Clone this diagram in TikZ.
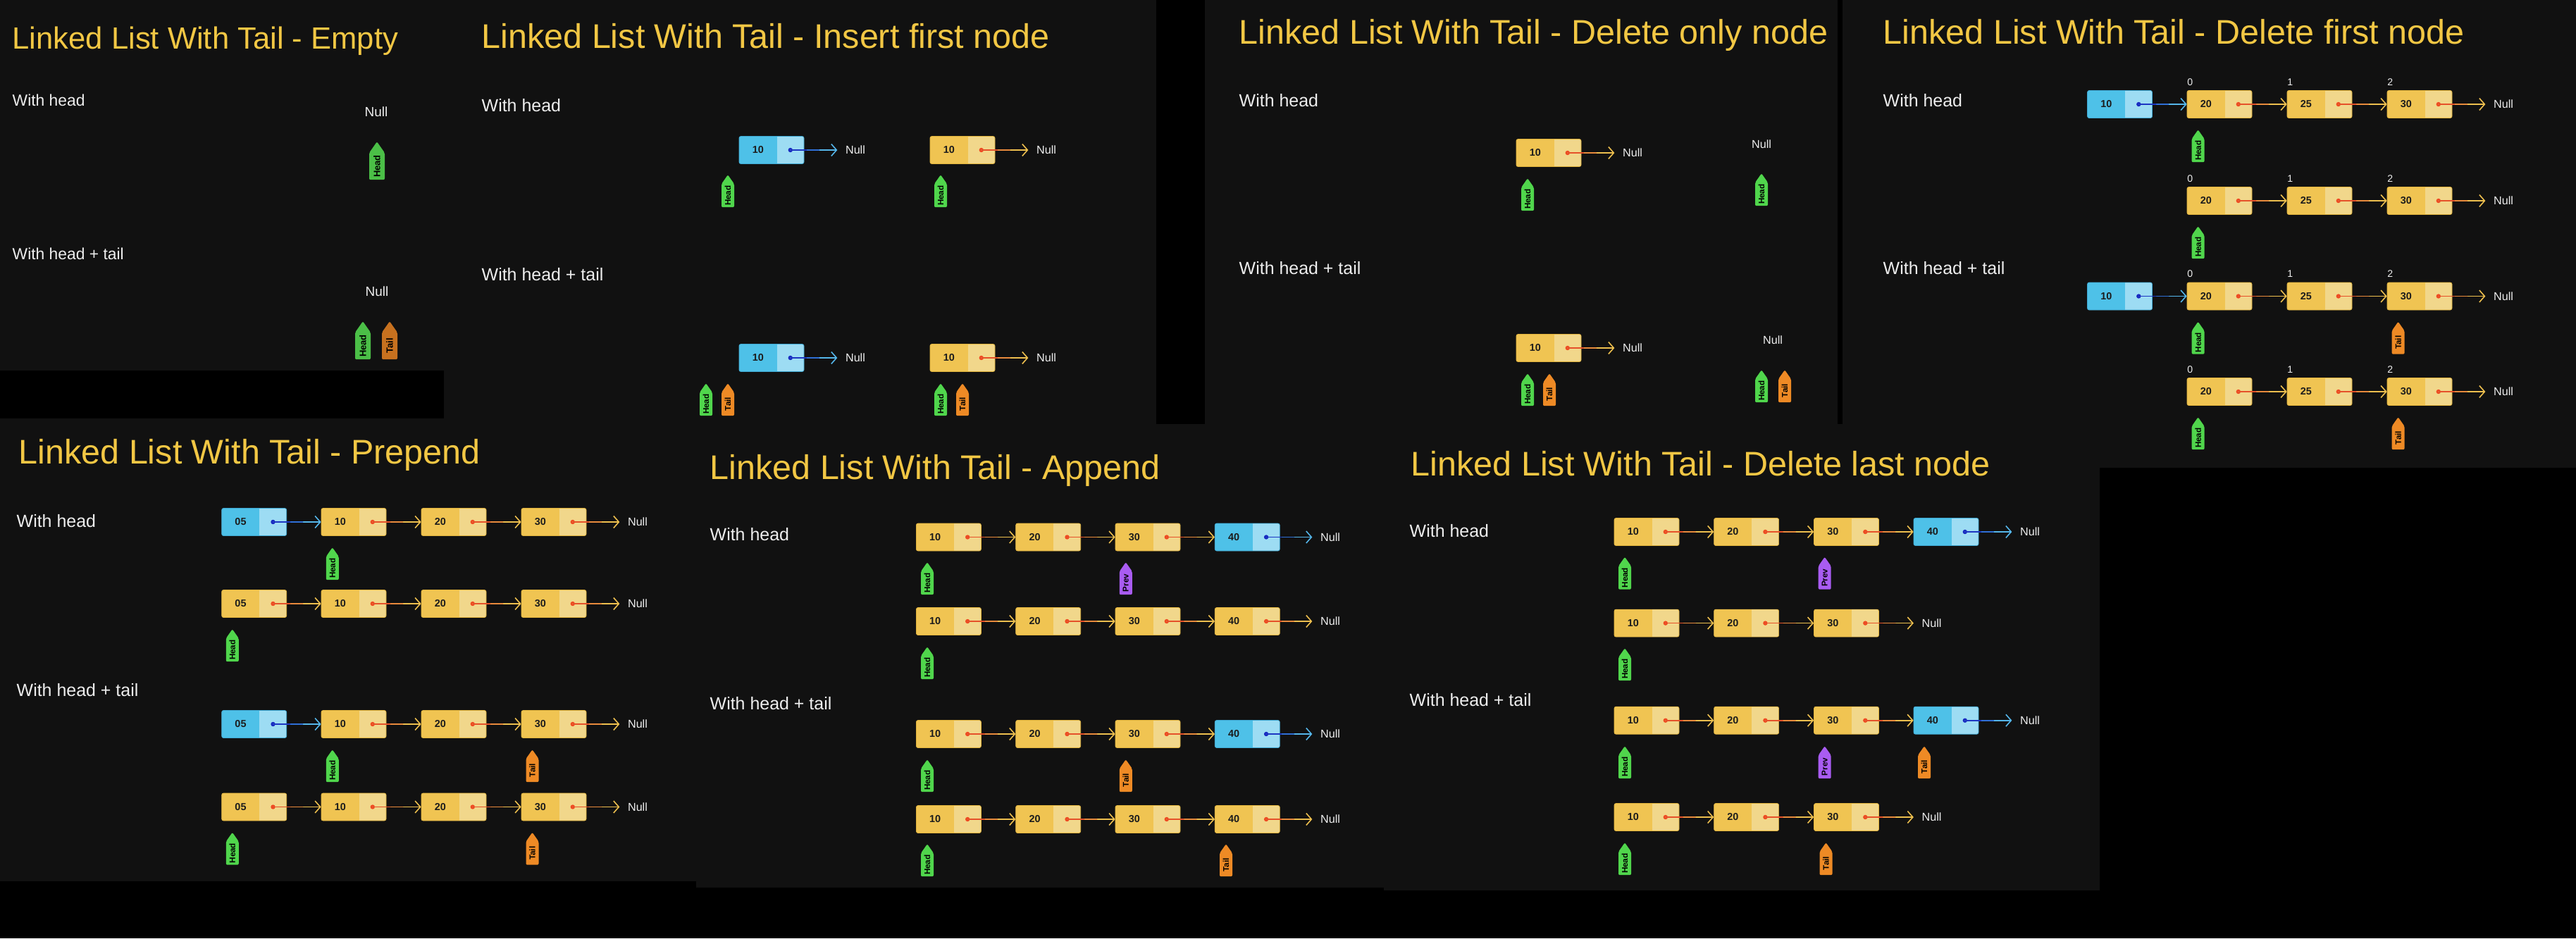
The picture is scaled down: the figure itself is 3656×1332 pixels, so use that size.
\documentclass[tikz,border=0pt]{standalone}
\usepackage{fontspec}
\setmainfont{Liberation Sans}
\usetikzlibrary{arrows.meta,shapes.symbols}

\definecolor{panel}{HTML}{111111}
\definecolor{ttlgold}{HTML}{F2C744}
\definecolor{subwhite}{HTML}{EDEDED}
\definecolor{numblack}{HTML}{1C1C1C}
\definecolor{ydark}{HTML}{F0C452}
\definecolor{ylite}{HTML}{F1D78B}
\definecolor{yedge}{HTML}{E2B43C}
\definecolor{bdark}{HTML}{4EC1E8}
\definecolor{blite}{HTML}{9DDCF3}
\definecolor{bedge}{HTML}{3FA9D4}
\definecolor{dotred}{HTML}{EE4A22}
\definecolor{ptrred}{HTML}{E5512A}
\definecolor{ptrorange}{HTML}{E88A3C}
\definecolor{ptrgold}{HTML}{EDBF4E}
\definecolor{dotblue}{HTML}{1628C0}
\definecolor{ptrdblue}{HTML}{1D36C2}
\definecolor{ptrmblue}{HTML}{2F6FD6}
\definecolor{ptrlblue}{HTML}{55B6EA}
\definecolor{headgreen}{HTML}{50D64C}
\definecolor{tailorange}{HTML}{EE8A25}
\definecolor{prevpurple}{HTML}{A95CF2}
\definecolor{headdim}{HTML}{4BBF47}
\definecolor{taildim}{HTML}{C7711F}

\begin{document}
\begin{tikzpicture}[x=.1mm, y=-.1mm,
    ttl/.style={anchor=base west, inner sep=0, text=ttlgold, font=\fontsize{13.8}{16}\selectfont},
    sub/.style={anchor=base west, inner sep=0, text=subwhite, font=\fontsize{7.1}{8}\selectfont},
    nul/.style={inner xsep=1.1mm, inner ysep=0, text=subwhite, font=\fontsize{4.6}{5}\selectfont},
    idx/.style={anchor=south west, inner sep=0, text=subwhite, font=\fontsize{4}{5}\selectfont},
    num/.style={inner sep=0, text=numblack, font=\bfseries\fontsize{4.1}{5}\selectfont, xshift=-1.92mm},
    cell/.style={rectangle, rounded corners=.25mm, minimum width=9.2mm, minimum height=3.9mm, inner sep=0, line width=.2pt},
    ynode/.style={cell, fill=ylite, draw=yedge, path picture={
        \fill[ydark, sharp corners] (path picture bounding box.south west) rectangle ([xshift=5.36mm]path picture bounding box.north west);
        \fill[dotred] ([xshift=-1.92mm]path picture bounding box.east) circle (.32mm);},
      label={[num]center:#1}},
    bnode/.style={cell, fill=blite, draw=bedge, path picture={
        \fill[bdark, sharp corners] (path picture bounding box.south west) rectangle ([xshift=5.36mm]path picture bounding box.north west);
        \fill[dotblue] ([xshift=-1.92mm]path picture bounding box.east) circle (.32mm);},
      label={[num]center:#1}},
    yptr/.style={draw=ptrgold, line width=.45pt, line cap=round, -{Straight Barb[length=.75mm, width=1.7mm]},
      postaction={draw=ptrorange, -, shorten >=2.6mm}, postaction={draw=ptrred, -, shorten >=4.4mm}},
    bptr/.style={draw=ptrlblue, line width=.45pt, line cap=round, -{Straight Barb[length=.75mm, width=1.7mm]},
      postaction={draw=ptrmblue, -, shorten >=2.6mm}, postaction={draw=ptrdblue, -, shorten >=4.4mm}},
    tag/.style={shape=signal, signal to=east, signal pointer angle=70, rotate=90, anchor=east,
      minimum width=4.6mm, minimum height=1.8mm, inner sep=.2mm, rounded corners=.2mm,
      text=black, font=\bfseries\fontsize{3.3}{4}\selectfont},
    headtag/.style={tag, fill=headgreen},
    tailtag/.style={tag, fill=tailorange},
    prevtag/.style={tag, fill=prevpurple},
    emptag/.style={minimum width=5.4mm, minimum height=2.2mm, font=\bfseries\fontsize{3.7}{4}\selectfont}
  ]
  \useasboundingbox (0,0) rectangle (3656,1332);
  \fill[black] (0,0) rectangle (3656,1332);
  \fill[panel] (0,0) rectangle (630,526);
  \fill[panel] (630,0) rectangle (1641,602);
  \fill[panel] (1710,0) rectangle (2608,602);
  \fill[panel] (2615,0) rectangle (3656,664);
  \fill[panel] (0,594) rectangle (988,1251);
  \fill[panel] (988,602) rectangle (1964,1260);
  \fill[panel] (1964,602) rectangle (2980,1264);

  \node[ttl, font=\fontsize{12.4}{14}\selectfont] (empT) at (17,69) {Linked List With Tail - Empty};
  \node[sub, font=\fontsize{6.5}{8}\selectfont] (empS1) at (17,150) {With head};
  \node[sub, font=\fontsize{6.5}{8}\selectfont] (empS2) at (17,368) {With head + tail};
  \node[nul, font=\fontsize{5.4}{6}\selectfont] (emp1n) at (534,159) {Null};
  \node[headtag, emptag, fill=headdim] (emp1h) at (535,200) {Head};
  \node[nul, font=\fontsize{5.4}{6}\selectfont] (emp2n) at (535,414) {Null};
  \node[headtag, emptag, fill=headdim] (emp2h) at (515,455) {Head};
  \node[tailtag, emptag, fill=taildim] (emp2t) at (553,455) {Tail};

  \node[ttl] (insT) at (683,68) {Linked List With Tail - Insert first node};
  \node[sub] (insS1) at (683,158) {With head};
  \node[sub] (insS2) at (683,398) {With head + tail};
  \node[bnode=10] (ins1a) at (1095,213) {};
  \node[nul] (ins1an) at (1214,213) {Null};
  \draw[bptr] ([xshift=-1.92mm]ins1a.east) -- (ins1an.west);
  \node[headtag] (ins1ah) at (1033,247) {Head};
  \node[ynode=10] (ins1b) at (1366,213) {};
  \node[nul] (ins1bn) at (1485,213) {Null};
  \draw[yptr] ([xshift=-1.92mm]ins1b.east) -- (ins1bn.west);
  \node[headtag] (ins1bh) at (1335,247) {Head};
  \node[bnode=10] (ins2a) at (1095,508) {};
  \node[nul] (ins2an) at (1214,508) {Null};
  \draw[bptr] ([xshift=-1.92mm]ins2a.east) -- (ins2an.west);
  \node[headtag] (ins2ah) at (1002,543) {Head};
  \node[tailtag] (ins2at) at (1033,543) {Tail};
  \node[ynode=10] (ins2b) at (1366,508) {};
  \node[nul] (ins2bn) at (1485,508) {Null};
  \draw[yptr] ([xshift=-1.92mm]ins2b.east) -- (ins2bn.west);
  \node[headtag] (ins2bh) at (1335,543) {Head};
  \node[tailtag] (ins2bt) at (1366,543) {Tail};

  \node[ttl] (dloT) at (1758,62) {Linked List With Tail - Delete only node};
  \node[sub] (dloS1) at (1758,151) {With head};
  \node[sub] (dloS2) at (1758,389) {With head + tail};
  \node[ynode=10] (dlo1a) at (2198,217) {};
  \node[nul] (dlo1n) at (2317,217) {Null};
  \draw[yptr] ([xshift=-1.92mm]dlo1a.east) -- (dlo1n.west);
  \node[headtag] (dlo1h) at (2168,252) {Head};
  \node[nul] (dlo1m) at (2500,205) {Null};
  \node[headtag] (dlo1g) at (2500,245) {Head};
  \node[ynode=10] (dlo2a) at (2198,494) {};
  \node[nul] (dlo2n) at (2317,494) {Null};
  \draw[yptr] ([xshift=-1.92mm]dlo2a.east) -- (dlo2n.west);
  \node[headtag] (dlo2h) at (2168,529) {Head};
  \node[tailtag] (dlo2t) at (2199,529) {Tail};
  \node[nul] (dlo2m) at (2516,483) {Null};
  \node[headtag] (dlo2g) at (2500,524) {Head};
  \node[tailtag] (dlo2s) at (2533,524) {Tail};

  \node[ttl] (dlfT) at (2672,62) {Linked List With Tail - Delete first node};
  \node[sub] (dlfS1) at (2672,151) {With head};
  \node[sub] (dlfS2) at (2672,389) {With head + tail};
  \node[bnode=10] (dlf1a) at (3008.5,148) {};
  \node[ynode=20] (dlf1b) at (3150,148) {};
  \node[ynode=25] (dlf1c) at (3292,148) {};
  \node[ynode=30] (dlf1d) at (3434,148) {};
  \node[nul] (dlf1n) at (3553,148) {Null};
  \node[idx] (dlf1i) at ([yshift=.6mm]dlf1b.north west) {0};
  \node[idx] (dlf1j) at ([yshift=.6mm]dlf1c.north west) {1};
  \node[idx] (dlf1k) at ([yshift=.6mm]dlf1d.north west) {2};
  \draw[bptr] ([xshift=-1.92mm]dlf1a.east) -- (dlf1b.west);
  \draw[yptr] ([xshift=-1.92mm]dlf1b.east) -- (dlf1c.west);
  \draw[yptr] ([xshift=-1.92mm]dlf1c.east) -- (dlf1d.west);
  \draw[yptr] ([xshift=-1.92mm]dlf1d.east) -- (dlf1n.west);
  \node[headtag] (dlf1h) at (3119.6,183) {Head};
  \node[ynode=20] (dlf2b) at (3150,285) {};
  \node[ynode=25] (dlf2c) at (3292,285) {};
  \node[ynode=30] (dlf2d) at (3434,285) {};
  \node[nul] (dlf2n) at (3553,285) {Null};
  \node[idx] (dlf2i) at ([yshift=.6mm]dlf2b.north west) {0};
  \node[idx] (dlf2j) at ([yshift=.6mm]dlf2c.north west) {1};
  \node[idx] (dlf2k) at ([yshift=.6mm]dlf2d.north west) {2};
  \draw[yptr] ([xshift=-1.92mm]dlf2b.east) -- (dlf2c.west);
  \draw[yptr] ([xshift=-1.92mm]dlf2c.east) -- (dlf2d.west);
  \draw[yptr] ([xshift=-1.92mm]dlf2d.east) -- (dlf2n.west);
  \node[headtag] (dlf2h) at (3119.6,320) {Head};
  \node[bnode=10] (dlf3a) at (3008.5,420.5) {};
  \node[ynode=20] (dlf3b) at (3150,420.5) {};
  \node[ynode=25] (dlf3c) at (3292,420.5) {};
  \node[ynode=30] (dlf3d) at (3434,420.5) {};
  \node[nul] (dlf3n) at (3553,420.5) {Null};
  \node[idx] (dlf3i) at ([yshift=.6mm]dlf3b.north west) {0};
  \node[idx] (dlf3j) at ([yshift=.6mm]dlf3c.north west) {1};
  \node[idx] (dlf3k) at ([yshift=.6mm]dlf3d.north west) {2};
  \draw[bptr] ([xshift=-1.92mm]dlf3a.east) -- (dlf3b.west);
  \draw[yptr] ([xshift=-1.92mm]dlf3b.east) -- (dlf3c.west);
  \draw[yptr] ([xshift=-1.92mm]dlf3c.east) -- (dlf3d.west);
  \draw[yptr] ([xshift=-1.92mm]dlf3d.east) -- (dlf3n.west);
  \node[headtag] (dlf3h) at (3119.6,455.5) {Head};
  \node[tailtag] (dlf3t) at (3403.6,455.5) {Tail};
  \node[ynode=20] (dlf4b) at (3150,556) {};
  \node[ynode=25] (dlf4c) at (3292,556) {};
  \node[ynode=30] (dlf4d) at (3434,556) {};
  \node[nul] (dlf4n) at (3553,556) {Null};
  \node[idx] (dlf4i) at ([yshift=.6mm]dlf4b.north west) {0};
  \node[idx] (dlf4j) at ([yshift=.6mm]dlf4c.north west) {1};
  \node[idx] (dlf4k) at ([yshift=.6mm]dlf4d.north west) {2};
  \draw[yptr] ([xshift=-1.92mm]dlf4b.east) -- (dlf4c.west);
  \draw[yptr] ([xshift=-1.92mm]dlf4c.east) -- (dlf4d.west);
  \draw[yptr] ([xshift=-1.92mm]dlf4d.east) -- (dlf4n.west);
  \node[headtag] (dlf4h) at (3119.6,591) {Head};
  \node[tailtag] (dlf4t) at (3403.6,591) {Tail};

  \node[ttl] (preT) at (26,658) {Linked List With Tail - Prepend};
  \node[sub] (preS1) at (23,748) {With head};
  \node[sub] (preS2) at (23,988) {With head + tail};
  \node[bnode=05] (pre1a) at (360.7,741) {};
  \node[ynode=10] (pre1b) at (502,741) {};
  \node[ynode=20] (pre1c) at (644,741) {};
  \node[ynode=30] (pre1d) at (786,741) {};
  \node[nul] (pre1n) at (905,741) {Null};
  \draw[bptr] ([xshift=-1.92mm]pre1a.east) -- (pre1b.west);
  \draw[yptr] ([xshift=-1.92mm]pre1b.east) -- (pre1c.west);
  \draw[yptr] ([xshift=-1.92mm]pre1c.east) -- (pre1d.west);
  \draw[yptr] ([xshift=-1.92mm]pre1d.east) -- (pre1n.west);
  \node[headtag] (pre1h) at (471.8,776) {Head};
  \node[ynode=05] (pre2a) at (360.7,857) {};
  \node[ynode=10] (pre2b) at (502,857) {};
  \node[ynode=20] (pre2c) at (644,857) {};
  \node[ynode=30] (pre2d) at (786,857) {};
  \node[nul] (pre2n) at (905,857) {Null};
  \draw[yptr] ([xshift=-1.92mm]pre2a.east) -- (pre2b.west);
  \draw[yptr] ([xshift=-1.92mm]pre2b.east) -- (pre2c.west);
  \draw[yptr] ([xshift=-1.92mm]pre2c.east) -- (pre2d.west);
  \draw[yptr] ([xshift=-1.92mm]pre2d.east) -- (pre2n.west);
  \node[headtag] (pre2h) at (329.8,892) {Head};
  \node[bnode=05] (pre3a) at (360.7,1028) {};
  \node[ynode=10] (pre3b) at (502,1028) {};
  \node[ynode=20] (pre3c) at (644,1028) {};
  \node[ynode=30] (pre3d) at (786,1028) {};
  \node[nul] (pre3n) at (905,1028) {Null};
  \draw[bptr] ([xshift=-1.92mm]pre3a.east) -- (pre3b.west);
  \draw[yptr] ([xshift=-1.92mm]pre3b.east) -- (pre3c.west);
  \draw[yptr] ([xshift=-1.92mm]pre3c.east) -- (pre3d.west);
  \draw[yptr] ([xshift=-1.92mm]pre3d.east) -- (pre3n.west);
  \node[headtag] (pre3h) at (471.8,1063) {Head};
  \node[tailtag] (pre3t) at (755.5,1063) {Tail};
  \node[ynode=05] (pre4a) at (360.7,1145.5) {};
  \node[ynode=10] (pre4b) at (502,1145.5) {};
  \node[ynode=20] (pre4c) at (644,1145.5) {};
  \node[ynode=30] (pre4d) at (786,1145.5) {};
  \node[nul] (pre4n) at (905,1145.5) {Null};
  \draw[yptr] ([xshift=-1.92mm]pre4a.east) -- (pre4b.west);
  \draw[yptr] ([xshift=-1.92mm]pre4b.east) -- (pre4c.west);
  \draw[yptr] ([xshift=-1.92mm]pre4c.east) -- (pre4d.west);
  \draw[yptr] ([xshift=-1.92mm]pre4d.east) -- (pre4n.west);
  \node[headtag] (pre4h) at (329.8,1180.5) {Head};
  \node[tailtag] (pre4t) at (755.5,1180.5) {Tail};

  \node[ttl] (appT) at (1007,680) {Linked List With Tail - Append};
  \node[sub] (appS1) at (1007,767) {With head};
  \node[sub] (appS2) at (1007,1007) {With head + tail};
  \node[ynode=10] (app1a) at (1346.4,762.5) {};
  \node[ynode=20] (app1b) at (1487.7,762.5) {};
  \node[ynode=30] (app1c) at (1629,762.5) {};
  \node[bnode=40] (app1d) at (1770.3,762.5) {};
  \node[nul] (app1n) at (1888,762.5) {Null};
  \draw[yptr] ([xshift=-1.92mm]app1a.east) -- (app1b.west);
  \draw[yptr] ([xshift=-1.92mm]app1b.east) -- (app1c.west);
  \draw[yptr] ([xshift=-1.92mm]app1c.east) -- (app1d.west);
  \draw[bptr] ([xshift=-1.92mm]app1d.east) -- (app1n.west);
  \node[headtag] (app1h) at (1316,797) {Head};
  \node[prevtag] (app1p) at (1597.8,797) {Prev};
  \node[ynode=10] (app2a) at (1346.4,882) {};
  \node[ynode=20] (app2b) at (1487.7,882) {};
  \node[ynode=30] (app2c) at (1629,882) {};
  \node[ynode=40] (app2d) at (1770.3,882) {};
  \node[nul] (app2n) at (1888,882) {Null};
  \draw[yptr] ([xshift=-1.92mm]app2a.east) -- (app2b.west);
  \draw[yptr] ([xshift=-1.92mm]app2b.east) -- (app2c.west);
  \draw[yptr] ([xshift=-1.92mm]app2c.east) -- (app2d.west);
  \draw[yptr] ([xshift=-1.92mm]app2d.east) -- (app2n.west);
  \node[headtag] (app2h) at (1316,917) {Head};
  \node[ynode=10] (app3a) at (1346.4,1042) {};
  \node[ynode=20] (app3b) at (1487.7,1042) {};
  \node[ynode=30] (app3c) at (1629,1042) {};
  \node[bnode=40] (app3d) at (1770.3,1042) {};
  \node[nul] (app3n) at (1888,1042) {Null};
  \draw[yptr] ([xshift=-1.92mm]app3a.east) -- (app3b.west);
  \draw[yptr] ([xshift=-1.92mm]app3b.east) -- (app3c.west);
  \draw[yptr] ([xshift=-1.92mm]app3c.east) -- (app3d.west);
  \draw[bptr] ([xshift=-1.92mm]app3d.east) -- (app3n.west);
  \node[headtag] (app3h) at (1316,1077) {Head};
  \node[tailtag] (app3t) at (1597.8,1077) {Tail};
  \node[ynode=10] (app4a) at (1346.4,1163) {};
  \node[ynode=20] (app4b) at (1487.7,1163) {};
  \node[ynode=30] (app4c) at (1629,1163) {};
  \node[ynode=40] (app4d) at (1770.3,1163) {};
  \node[nul] (app4n) at (1888,1163) {Null};
  \draw[yptr] ([xshift=-1.92mm]app4a.east) -- (app4b.west);
  \draw[yptr] ([xshift=-1.92mm]app4b.east) -- (app4c.west);
  \draw[yptr] ([xshift=-1.92mm]app4c.east) -- (app4d.west);
  \draw[yptr] ([xshift=-1.92mm]app4d.east) -- (app4n.west);
  \node[headtag] (app4h) at (1316,1197) {Head};
  \node[tailtag] (app4t) at (1740,1197) {Tail};

  \node[ttl] (dllT) at (2002,675) {Linked List With Tail - Delete last node};
  \node[sub] (dllS1) at (2000,762) {With head};
  \node[sub] (dllS2) at (2000,1002) {With head + tail};
  \node[ynode=10] (dll1a) at (2337,755) {};
  \node[ynode=20] (dll1b) at (2478.6,755) {};
  \node[ynode=30] (dll1c) at (2620.5,755) {};
  \node[bnode=40] (dll1d) at (2762,755) {};
  \node[nul] (dll1n) at (2881,755) {Null};
  \draw[yptr] ([xshift=-1.92mm]dll1a.east) -- (dll1b.west);
  \draw[yptr] ([xshift=-1.92mm]dll1b.east) -- (dll1c.west);
  \draw[yptr] ([xshift=-1.92mm]dll1c.east) -- (dll1d.west);
  \draw[bptr] ([xshift=-1.92mm]dll1d.east) -- (dll1n.west);
  \node[headtag] (dll1h) at (2306,789.5) {Head};
  \node[prevtag] (dll1p) at (2589.7,789.5) {Prev};
  \node[ynode=10] (dll2a) at (2337,884.6) {};
  \node[ynode=20] (dll2b) at (2478.6,884.6) {};
  \node[ynode=30] (dll2c) at (2620.5,884.6) {};
  \node[nul] (dll2n) at (2741.5,884.6) {Null};
  \draw[yptr] ([xshift=-1.92mm]dll2a.east) -- (dll2b.west);
  \draw[yptr] ([xshift=-1.92mm]dll2b.east) -- (dll2c.west);
  \draw[yptr] ([xshift=-1.92mm]dll2c.east) -- (dll2n.west);
  \node[headtag] (dll2h) at (2306,919) {Head};
  \node[ynode=10] (dll3a) at (2337,1022.7) {};
  \node[ynode=20] (dll3b) at (2478.6,1022.7) {};
  \node[ynode=30] (dll3c) at (2620.5,1022.7) {};
  \node[bnode=40] (dll3d) at (2762,1022.7) {};
  \node[nul] (dll3n) at (2881,1022.7) {Null};
  \draw[yptr] ([xshift=-1.92mm]dll3a.east) -- (dll3b.west);
  \draw[yptr] ([xshift=-1.92mm]dll3b.east) -- (dll3c.west);
  \draw[yptr] ([xshift=-1.92mm]dll3c.east) -- (dll3d.west);
  \draw[bptr] ([xshift=-1.92mm]dll3d.east) -- (dll3n.west);
  \node[headtag] (dll3h) at (2306,1058) {Head};
  \node[prevtag] (dll3p) at (2589.7,1058) {Prev};
  \node[tailtag] (dll3t) at (2731,1058) {Tail};
  \node[ynode=10] (dll4a) at (2337,1160) {};
  \node[ynode=20] (dll4b) at (2478.6,1160) {};
  \node[ynode=30] (dll4c) at (2620.5,1160) {};
  \node[nul] (dll4n) at (2741.5,1160) {Null};
  \draw[yptr] ([xshift=-1.92mm]dll4a.east) -- (dll4b.west);
  \draw[yptr] ([xshift=-1.92mm]dll4b.east) -- (dll4c.west);
  \draw[yptr] ([xshift=-1.92mm]dll4c.east) -- (dll4n.west);
  \node[headtag] (dll4h) at (2306,1195) {Head};
  \node[tailtag] (dll4t) at (2591.5,1195) {Tail};
\end{tikzpicture}
\end{document}
